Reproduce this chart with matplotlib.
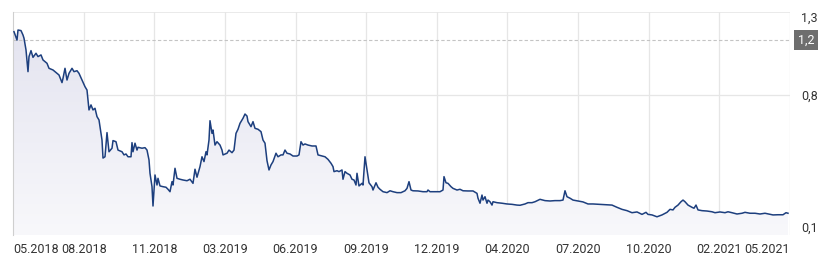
import numpy as np
import matplotlib
matplotlib.use('Agg')
import matplotlib.pyplot as plt
from matplotlib.patches import Polygon

plt.rcParams['font.family'] = ['Roboto', 'DejaVu Sans']

# trading-day index and closing price
days = [1, 4, 5, 8, 10, 11, 13, 15, 16, 18, 20, 23, 25, 28, 30, 34, 36, 40, 44, 46,
        49, 50, 52, 54, 56, 59, 61, 64, 66, 69, 72, 74, 76, 78, 80, 82, 84, 86, 89, 90,
        92, 94, 96, 99, 100, 103, 105, 109, 111, 113, 115, 118, 119, 120, 122, 124, 125, 129, 132, 134,
        136, 137, 139, 140, 142, 144, 145, 147, 150, 153, 155, 157, 159, 160, 162, 164, 167, 170, 174, 177,
        180, 182, 184, 187, 189, 191, 193, 194, 196, 197, 199, 200, 202, 204, 207, 209, 210, 214, 216, 219,
        221, 223, 225, 227, 230, 232, 234, 235, 238, 240, 242, 245, 248, 250, 252, 254, 256, 258, 260, 263,
        265, 268, 270, 272, 274, 277, 280, 284, 286, 288, 290, 292, 295, 299, 303, 305, 309, 312, 315, 318,
        320, 321, 324, 326, 329, 330, 332, 334, 337, 339, 341, 343, 344, 346, 349, 350, 352, 354, 356, 359,
        360, 363, 365, 367, 370, 374, 377, 380, 384, 388, 392, 394, 396, 398, 400, 405, 410, 414, 415, 417,
        422, 427, 430, 431, 433, 435, 438, 440, 444, 447, 450, 455, 460, 464, 465, 467, 469, 470, 472, 474,
        475, 477, 479, 480, 484, 489, 494, 499, 504, 507, 512, 515, 519, 522, 527, 532, 537, 542, 547, 550,
        552, 554, 557, 560, 565, 570, 575, 580, 587, 594, 599, 604, 609, 614, 619, 624, 629, 633, 635, 639,
        644, 649, 654, 657, 660, 662, 665, 668, 670, 672, 675, 679, 681, 683, 685, 689, 694, 699, 702, 707,
        712, 715, 719, 724, 729, 732, 737, 742, 747, 752, 757, 760, 765, 770, 773, 775]
price = [1.194, 1.149, 1.203, 1.200, 1.176, 1.159, 1.096, 0.979, 1.060, 1.092, 1.056, 1.078, 1.060, 1.069, 1.042, 1.024, 0.997, 0.988, 0.970, 0.961,
         0.920, 0.943, 0.997, 0.934, 0.970, 0.997, 0.979, 0.984, 0.970, 0.934, 0.898, 0.880, 0.773, 0.800, 0.773, 0.782, 0.737, 0.719, 0.611, 0.514,
         0.521, 0.651, 0.548, 0.567, 0.608, 0.602, 0.557, 0.548, 0.531, 0.536, 0.521, 0.521, 0.597, 0.548, 0.594, 0.557, 0.572, 0.567, 0.570, 0.557,
         0.504, 0.432, 0.360, 0.256, 0.423, 0.369, 0.405, 0.364, 0.360, 0.357, 0.346, 0.333, 0.387, 0.369, 0.459, 0.405, 0.400, 0.396, 0.392, 0.400,
         0.378, 0.454, 0.411, 0.468, 0.521, 0.495, 0.548, 0.531, 0.611, 0.715, 0.647, 0.665, 0.584, 0.602, 0.584, 0.557, 0.531, 0.540, 0.557, 0.543,
         0.557, 0.647, 0.669, 0.701, 0.728, 0.751, 0.740, 0.710, 0.683, 0.710, 0.674, 0.669, 0.656, 0.611, 0.594, 0.500, 0.450, 0.477, 0.495, 0.540,
         0.521, 0.531, 0.531, 0.557, 0.540, 0.536, 0.525, 0.525, 0.531, 0.602, 0.584, 0.590, 0.584, 0.579, 0.579, 0.531, 0.525, 0.521, 0.507, 0.486,
         0.468, 0.441, 0.446, 0.441, 0.450, 0.400, 0.441, 0.432, 0.423, 0.400, 0.396, 0.369, 0.432, 0.364, 0.378, 0.369, 0.521, 0.450, 0.381, 0.360,
         0.342, 0.381, 0.357, 0.346, 0.333, 0.328, 0.338, 0.333, 0.328, 0.328, 0.338, 0.351, 0.387, 0.342, 0.338, 0.337, 0.333, 0.333, 0.342, 0.333,
         0.333, 0.333, 0.342, 0.414, 0.381, 0.378, 0.360, 0.351, 0.342, 0.346, 0.338, 0.337, 0.337, 0.324, 0.298, 0.271, 0.315, 0.288, 0.306, 0.271,
         0.288, 0.279, 0.261, 0.279, 0.274, 0.271, 0.267, 0.265, 0.261, 0.260, 0.267, 0.274, 0.274, 0.279, 0.292, 0.285, 0.283, 0.285, 0.285, 0.288,
         0.338, 0.306, 0.298, 0.288, 0.283, 0.278, 0.267, 0.267, 0.265, 0.263, 0.261, 0.249, 0.238, 0.231, 0.220, 0.224, 0.211, 0.222, 0.211, 0.208,
         0.198, 0.208, 0.222, 0.238, 0.235, 0.249, 0.261, 0.279, 0.288, 0.279, 0.261, 0.249, 0.244, 0.261, 0.235, 0.231, 0.229, 0.225, 0.220, 0.224,
         0.220, 0.225, 0.220, 0.213, 0.217, 0.222, 0.217, 0.217, 0.213, 0.217, 0.211, 0.208, 0.209, 0.209, 0.220, 0.217]

month_labels = ['05.2018', '08.2018', '11.2018', '03.2019', '06.2019', '09.2019',
                '12.2019', '04.2020', '07.2020', '10.2020', '02.2021', '05.2021']
y_tick_values = [0.1, 0.853, 1.3]
y_tick_labels = ['0,1', '0,8', '1,3']
ref_price = 1.149
ref_label = '1,2'
n_days = 777
y_min, y_max = 0.1, 1.3

fig = plt.figure(figsize=(8.27, 2.67), dpi=100)
ax = fig.add_axes([13 / 827, 32 / 267, 777 / 827, 223 / 267])
ax.set_xlim(0, n_days)
ax.set_ylim(y_min, y_max)

# gradient fill under the line
grad = np.linspace(0, 1, 256).reshape(-1, 1)
cmap = matplotlib.colors.LinearSegmentedColormap.from_list('f', ['#f8f8fb', '#e4e4f0'])
im = ax.imshow(grad, cmap=cmap, aspect='auto', origin='lower',
               extent=[0, n_days, y_min, max(price)], zorder=1)
poly = Polygon(list(zip([days[0]] + days + [days[-1]], [y_min] + price + [y_min])),
               closed=True, transform=ax.transData, facecolor='none', edgecolor='none')
ax.add_patch(poly)
im.set_clip_path(poly)

ax.plot(days, price, color='#1d3f7e', lw=1.1, zorder=3)

# grid
tick_pos = np.linspace(0, n_days, len(month_labels))
for xp in tick_pos[1:]:
    ax.axvline(xp, color='#e6e6e6', lw=0.9, zorder=0)
ax.axhline(y_tick_values[1], color='#e6e6e6', lw=0.9, zorder=0)
ax.axhline(y_max, color='#e6e6e6', lw=1.2, zorder=0)
ax.axhline(ref_price, color='#c4c4c4', lw=0.8, ls=(0, (3, 2)), zorder=2)

for s in ['top', 'right', 'bottom']:
    ax.spines[s].set_visible(False)
ax.spines['left'].set_color('#cfcfcf')

ax.set_xticks(tick_pos)
ax.set_xticklabels(month_labels)
ax.tick_params(axis='x', length=0, pad=6, labelsize=9, labelcolor='#333333')
xl = ax.get_xticklabels()
xl[0].set_ha('left')
xl[-1].set_ha('right')

ax.yaxis.tick_right()
ax.set_yticks(y_tick_values)
ax.set_yticklabels(y_tick_labels)
ax.tick_params(axis='y', length=0, pad=8, labelsize=9, labelcolor='#333333')
yl = ax.get_yticklabels()
yl[0].set_va('bottom')
yl[-1].set_va('top')

ax.text(1.0105, ref_price, ref_label, transform=ax.get_yaxis_transform(),
        ha='left', va='center', fontsize=9, color='white',
        bbox=dict(boxstyle='square,pad=0.3', fc='#6e6e6e', ec='none'))

fig.savefig('out.png', dpi=100)
